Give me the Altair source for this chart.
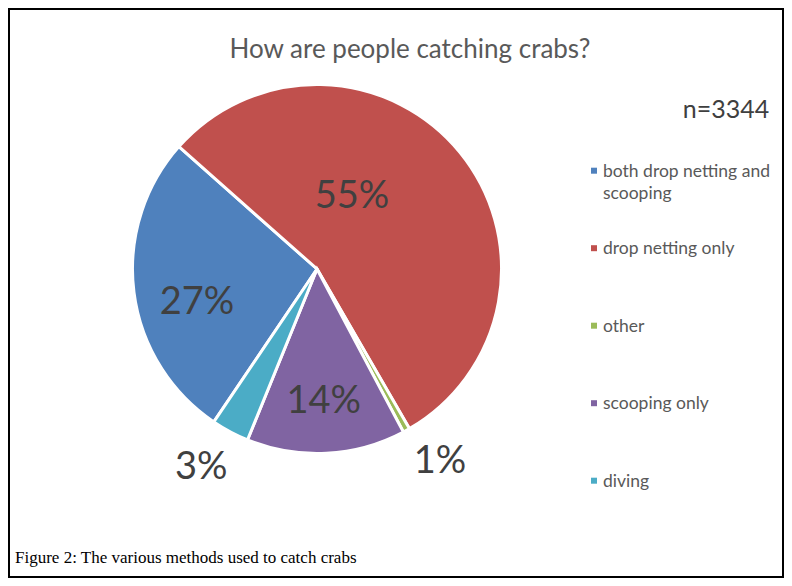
import math
import altair as alt
import pandas as pd

# ---- data ----
methods = ["both drop netting and scooping", "drop netting only", "other", "scooping only", "diving"]
legend_labels = ["both drop netting and\nscooping", "drop netting only", "other", "scooping only", "diving"]
shares = [27.1, 55.1, 0.6, 13.9, 3.3]
pct_labels = ["27%", "55%", "1%", "14%", "3%"]
colours = ["#4F81BD", "#C0504D", "#9BBB59", "#8064A2", "#4BACC6"]
title_text = "How are people catching crabs?"
n_text = "n=3344"
caption_text = "Figure 2: The various methods used to catch crabs"

df = pd.DataFrame({
    "idx": list(range(len(methods))),
    "method": methods,
    "legend": legend_labels,
    "share": shares,
    "pct": pct_labels,
})

total = sum(shares)
start = math.radians(214)
theta_scale = alt.Scale(domain=[0, total], range=[start, start + 2 * math.pi])
color_scale = alt.Scale(domain=methods, range=colours)

CX, CY, R = 308, 260, 184.5
FONT = "Lato"

base = alt.Chart(df)

pie = base.mark_arc(outerRadius=R, stroke="white", strokeWidth=3).encode(
    theta=alt.Theta("share:Q", stack=True, scale=theta_scale),
    color=alt.Color("method:N", scale=color_scale, legend=None),
    order=alt.Order("idx:Q"),
    x=alt.value(CX),
    y=alt.value(CY),
)

lab_base = base.transform_window(
    cum="sum(share)", sort=[alt.SortField("idx")], frame=[None, 0]
).transform_calculate(mid="datum.cum - datum.share / 2")

# per-label placement (radius, dx, dy)
placement = {
    "drop netting only": (80, -27, -21),
    "both drop netting and scooping": (125, 4, 18),
    "scooping only": (133, 0, 0),
    "diving": (229, -8, -3),
    "other": (229, 12, -7),
}

label_layers = []
for m, (r, dx, dy) in placement.items():
    label_layers.append(
        lab_base.transform_filter(alt.datum.method == m).mark_text(
            radius=r, dx=dx, dy=dy, font=FONT, fontSize=38, color="#404040",
            align="center", baseline="middle",
        ).encode(
            theta=alt.Theta("mid:Q", stack=False, scale=theta_scale),
            text="pct:N",
            x=alt.value(CX),
            y=alt.value(CY),
        )
    )

leg_base = base.transform_calculate(
    ly="167.7 + datum.idx * 77.5", sy="161.7 + datum.idx * 77.5"
)
leg_sq = leg_base.mark_square(size=36, opacity=1).encode(
    x=alt.value(585),
    y=alt.Y("sy:Q", scale=None),
    color=alt.Color("method:N", scale=color_scale, legend=None),
)
leg_txt = leg_base.mark_text(
    align="left", baseline="alphabetic", font=FONT, fontSize=17.5,
    color="#595959", lineBreak="\n", lineHeight=22,
).encode(
    x=alt.value(594),
    y=alt.Y("ly:Q", scale=None),
    text="legend:N",
)

title = alt.Chart(pd.DataFrame({"t": [title_text]})).mark_text(
    font=FONT, fontSize=26, color="#595959", align="center", baseline="alphabetic"
).encode(text="t:N", x=alt.value(401), y=alt.value(49))

n_label = alt.Chart(pd.DataFrame({"t": [n_text]})).mark_text(
    font=FONT, fontSize=25, color="#3F3F3F", align="center", baseline="alphabetic"
).encode(text="t:N", x=alt.value(717), y=alt.value(109))

caption = alt.Chart(pd.DataFrame({"t": [caption_text]})).mark_text(
    font="Liberation Serif", fontSize=17, color="black", align="left", baseline="alphabetic"
).encode(text="t:N", x=alt.value(6), y=alt.value(554))

chart = alt.layer(pie, *label_layers, leg_sq, leg_txt, title, n_label, caption).properties(
    width=774, height=568, padding={"left": 1, "top": 1, "right": 1, "bottom": 1}
).configure_view(stroke="black", strokeWidth=2)

chart.save("out.html", embed_options={"renderer": "svg", "actions": False})
